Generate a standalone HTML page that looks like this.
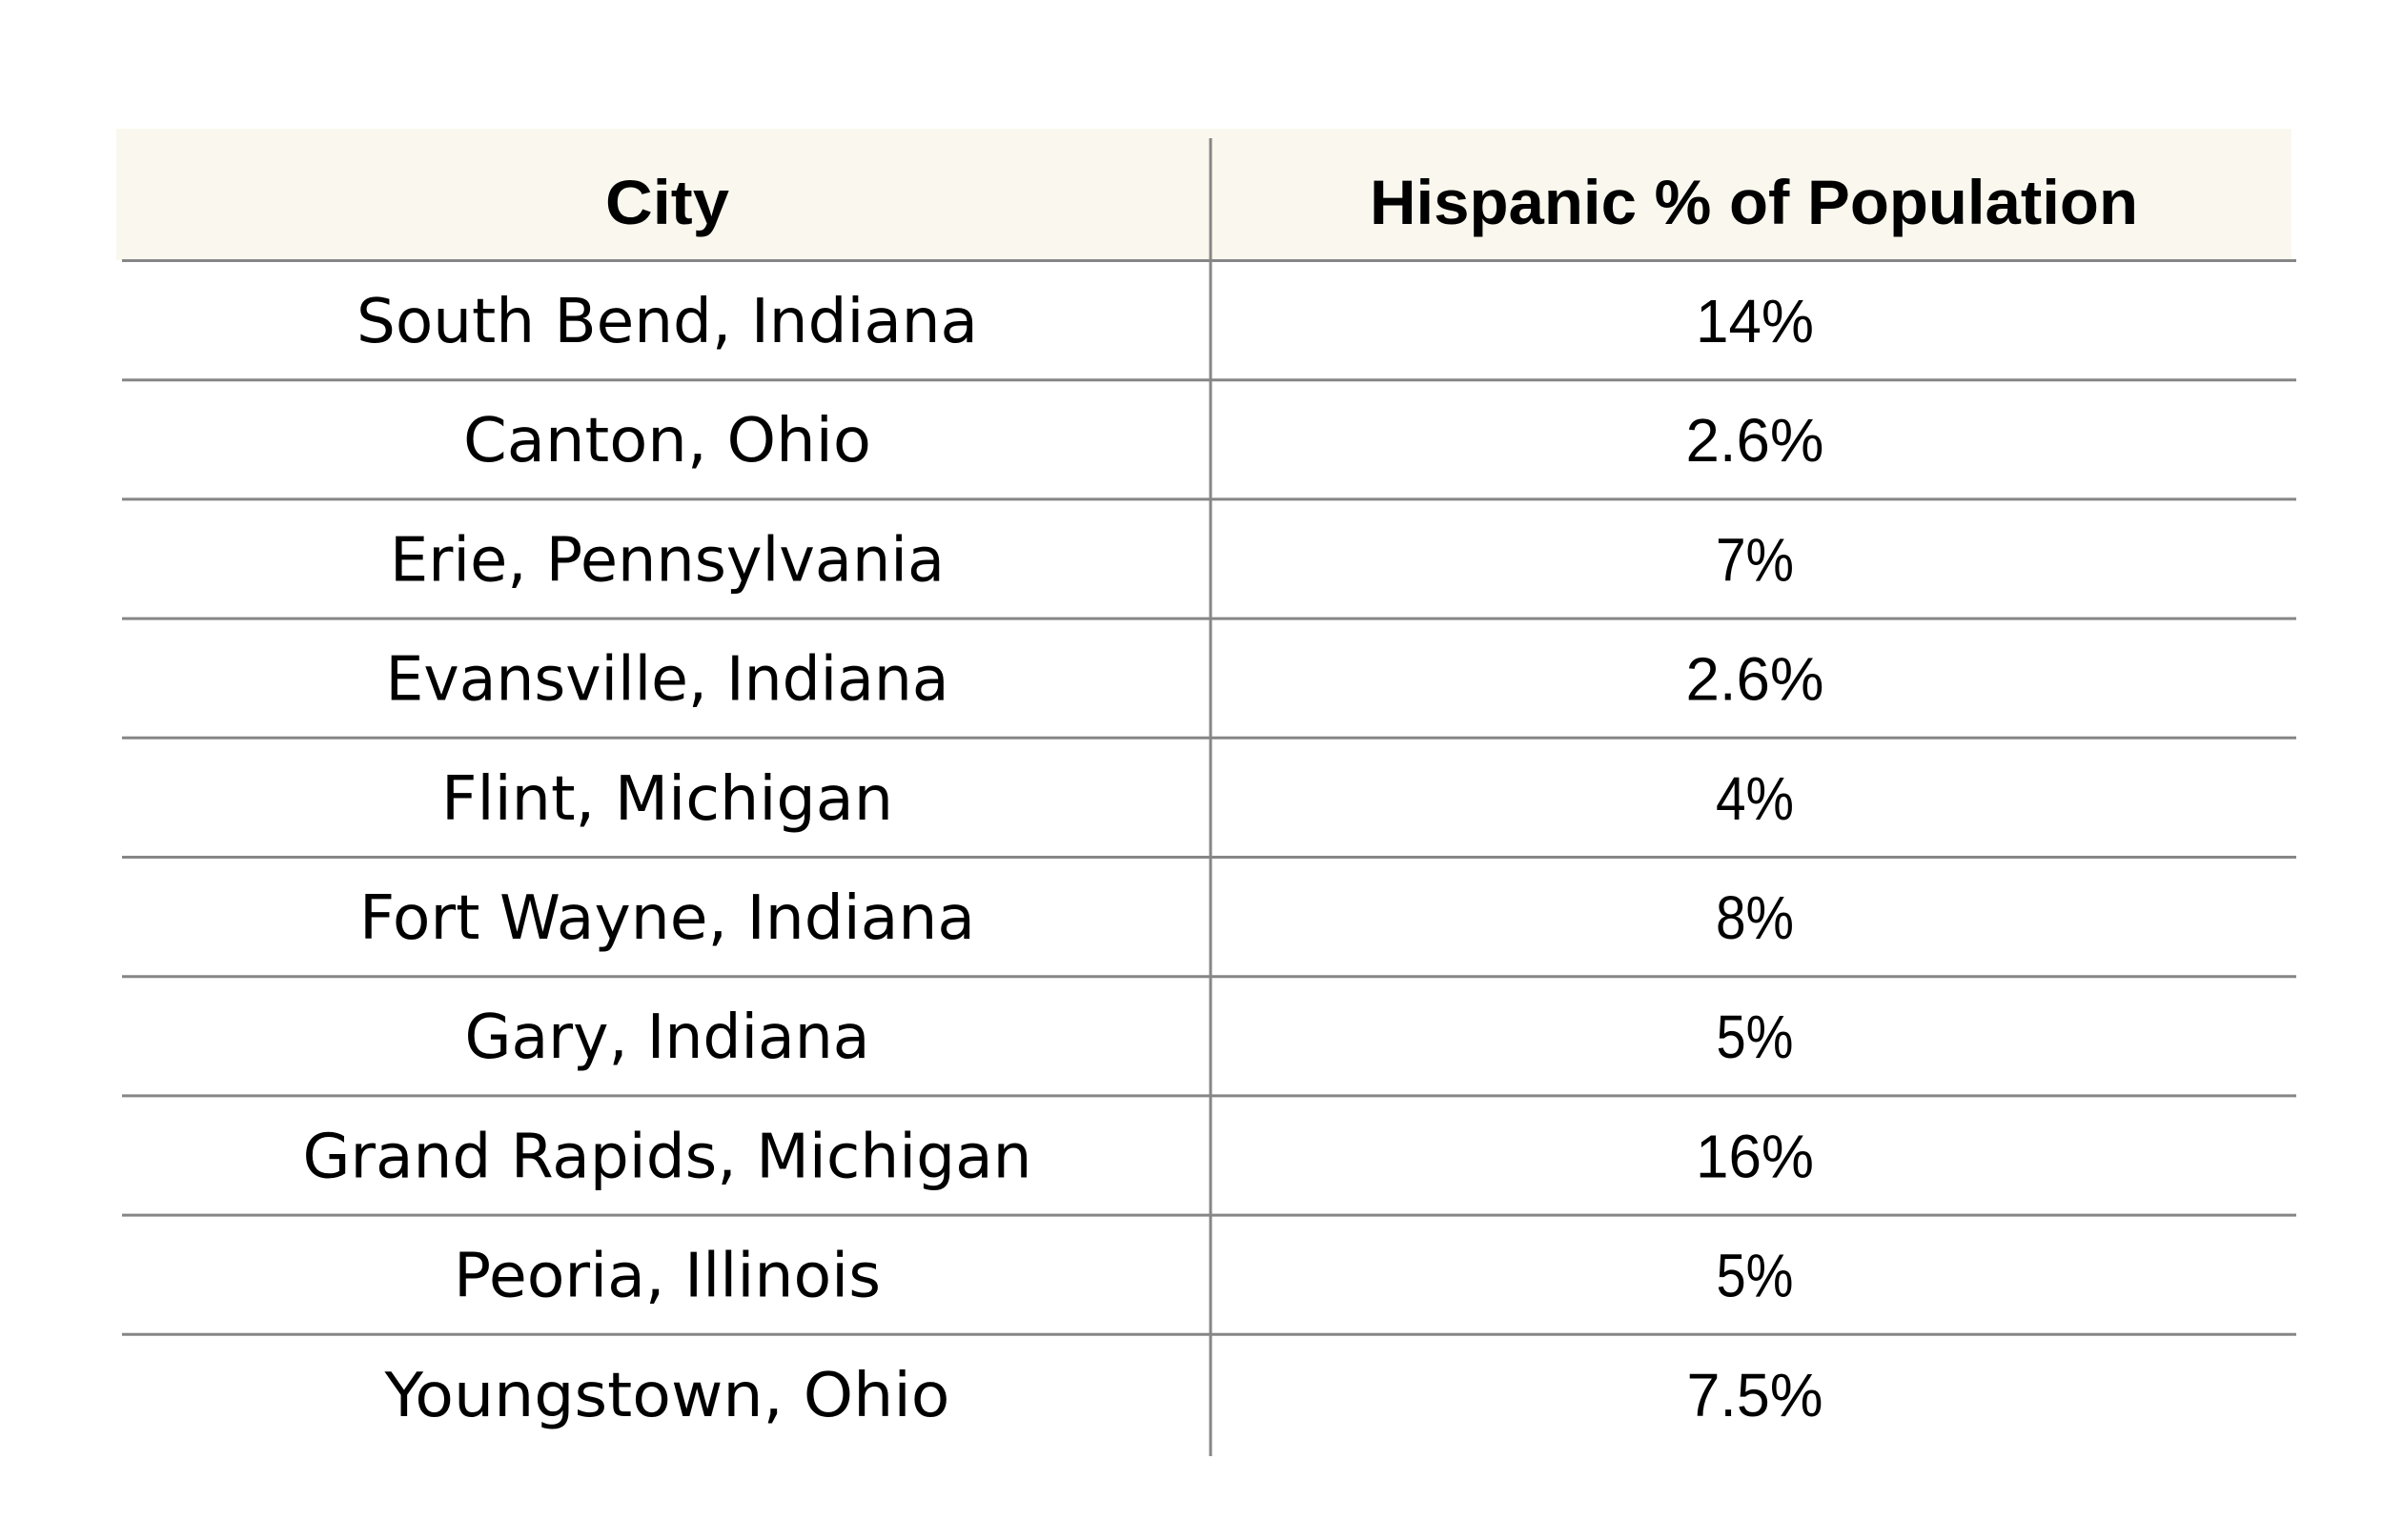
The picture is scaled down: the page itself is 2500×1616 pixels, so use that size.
<!DOCTYPE html>
<html>
<head>
<meta charset="utf-8">
<style>
  html, body { margin: 0; padding: 0; background: #ffffff; }
  body { width: 2500px; height: 1616px; overflow: hidden; }
  svg { display: block; }
  .hdr { font-family: "Liberation Sans", sans-serif; font-weight: bold; font-size: 66px; fill: #000000; }
  .city { font-family: "DejaVu Sans", "Liberation Sans", sans-serif; font-size: 64px; fill: #000000; }
  .num { font-family: "Liberation Sans", sans-serif; font-size: 64px; fill: #000000; }
</style>
</head>
<body>
<svg width="2500" height="1616" viewBox="0 0 2500 1616" xmlns="http://www.w3.org/2000/svg">
  <rect x="0" y="0" width="2500" height="1616" fill="#ffffff"/>
  <!-- header background -->
  <rect x="122" y="135" width="2282" height="138" fill="#faf8ee"/>

  <!-- horizontal lines -->
  <g stroke="#868686" stroke-width="3">
    <line x1="128" y1="273.5" x2="2409" y2="273.5"/>
    <line x1="128" y1="398.7" x2="2409" y2="398.7"/>
    <line x1="128" y1="523.9" x2="2409" y2="523.9"/>
    <line x1="128" y1="649.1" x2="2409" y2="649.1"/>
    <line x1="128" y1="774.3" x2="2409" y2="774.3"/>
    <line x1="128" y1="899.5" x2="2409" y2="899.5"/>
    <line x1="128" y1="1024.7" x2="2409" y2="1024.7"/>
    <line x1="128" y1="1149.9" x2="2409" y2="1149.9"/>
    <line x1="128" y1="1275.1" x2="2409" y2="1275.1"/>
    <line x1="128" y1="1400.3" x2="2409" y2="1400.3"/>
    <!-- vertical divider -->
    <line x1="1270" y1="145" x2="1270" y2="1528"/>
  </g>

  <!-- header text -->
  <text class="hdr" x="700" y="235" text-anchor="middle" textLength="130" lengthAdjust="spacingAndGlyphs">City</text>
  <text class="hdr" x="1840" y="235" text-anchor="middle" textLength="806" lengthAdjust="spacingAndGlyphs">Hispanic % of Population</text>

  <!-- city column -->
  <text class="city" x="700" y="359" text-anchor="middle" textLength="652" lengthAdjust="spacingAndGlyphs">South Bend, Indiana</text>
  <text class="city" x="700" y="484.2" text-anchor="middle" textLength="428" lengthAdjust="spacingAndGlyphs">Canton, Ohio</text>
  <text class="city" x="700" y="609.4" text-anchor="middle" textLength="582" lengthAdjust="spacingAndGlyphs">Erie, Pennsylvania</text>
  <text class="city" x="700" y="734.6" text-anchor="middle" textLength="591" lengthAdjust="spacingAndGlyphs">Evansville, Indiana</text>
  <text class="city" x="700" y="859.8" text-anchor="middle" textLength="474" lengthAdjust="spacingAndGlyphs">Flint, Michigan</text>
  <text class="city" x="700" y="985" text-anchor="middle" textLength="646" lengthAdjust="spacingAndGlyphs">Fort Wayne, Indiana</text>
  <text class="city" x="700" y="1110.2" text-anchor="middle" textLength="425" lengthAdjust="spacingAndGlyphs">Gary, Indiana</text>
  <text class="city" x="700" y="1235.4" text-anchor="middle" textLength="765" lengthAdjust="spacingAndGlyphs">Grand Rapids, Michigan</text>
  <text class="city" x="700" y="1360.6" text-anchor="middle" textLength="448" lengthAdjust="spacingAndGlyphs">Peoria, Illinois</text>
  <text class="city" x="700" y="1485.8" text-anchor="middle" textLength="593" lengthAdjust="spacingAndGlyphs">Youngstown, Ohio</text>

  <!-- value column -->
  <text class="num" x="1841" y="359" text-anchor="middle" textLength="124" lengthAdjust="spacingAndGlyphs">14%</text>
  <text class="num" x="1841" y="484.2" text-anchor="middle" textLength="145" lengthAdjust="spacingAndGlyphs">2.6%</text>
  <text class="num" x="1841" y="609.4" text-anchor="middle" textLength="82" lengthAdjust="spacingAndGlyphs">7%</text>
  <text class="num" x="1841" y="734.6" text-anchor="middle" textLength="145" lengthAdjust="spacingAndGlyphs">2.6%</text>
  <text class="num" x="1841" y="859.8" text-anchor="middle" textLength="82" lengthAdjust="spacingAndGlyphs">4%</text>
  <text class="num" x="1841" y="985" text-anchor="middle" textLength="82" lengthAdjust="spacingAndGlyphs">8%</text>
  <text class="num" x="1841" y="1110.2" text-anchor="middle" textLength="81" lengthAdjust="spacingAndGlyphs">5%</text>
  <text class="num" x="1841" y="1235.4" text-anchor="middle" textLength="124" lengthAdjust="spacingAndGlyphs">16%</text>
  <text class="num" x="1841" y="1360.6" text-anchor="middle" textLength="81" lengthAdjust="spacingAndGlyphs">5%</text>
  <text class="num" x="1841" y="1485.8" text-anchor="middle" textLength="143" lengthAdjust="spacingAndGlyphs">7.5%</text>
</svg>
</body>
</html>
